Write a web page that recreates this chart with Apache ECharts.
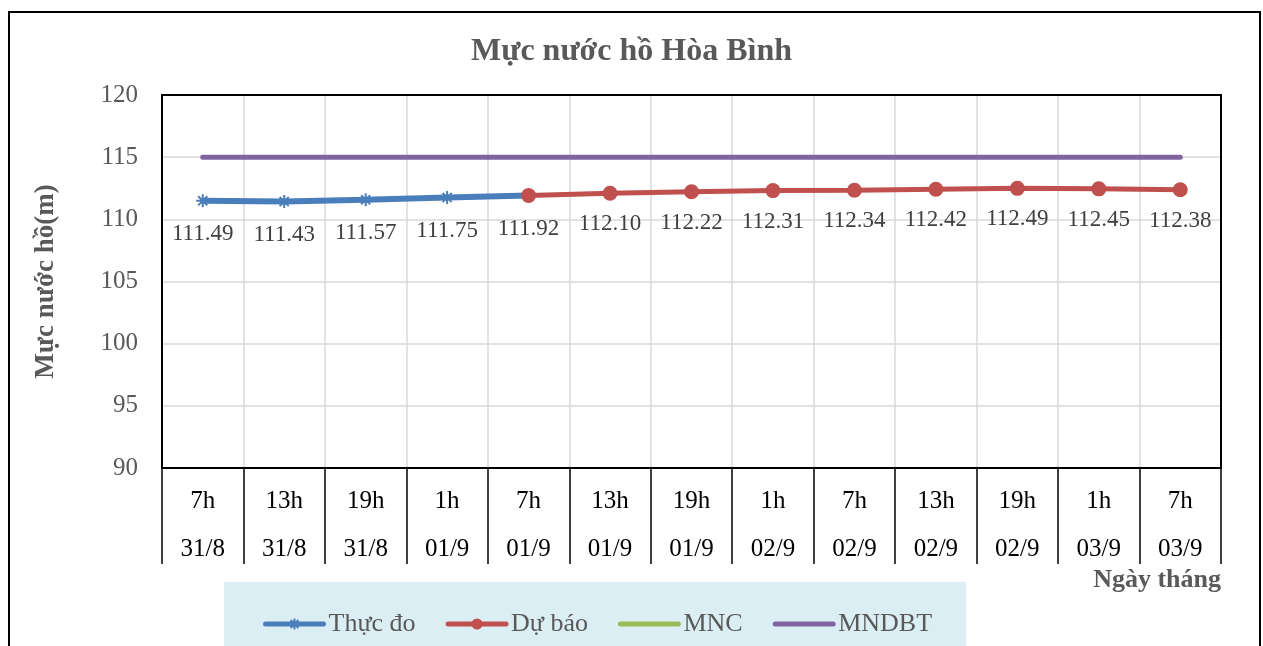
<!DOCTYPE html>
<html>
<head>
<meta charset="utf-8">
<script src="https://cdn.jsdelivr.net/npm/echarts@6/dist/echarts.min.js"></script>
<style>
html,body{margin:0;padding:0;background:#fff;}
#main{width:1263px;height:646px;}
</style>
</head>
<body>
<div id="main"></div>
<script>
var hours = ['7h','13h','19h','1h','7h','13h','19h','1h','7h','13h','19h','1h','7h'];
var days = ['31/8','31/8','31/8','01/9','01/9','01/9','01/9','02/9','02/9','02/9','02/9','03/9','03/9'];
var thucDo = [111.49,111.43,111.57,111.75,111.92];
var duBao = ['-','-','-','-',111.92,112.10,112.22,112.31,112.34,112.42,112.49,112.45,112.38];
var mnc = [80,80,80,80,80,80,80,80,80,80,80,80,80];     // nam duoi truc nen khong hien
var mndbt = [115,115,115,115,115,115,115,115,115,115,115,115,115];
var yTicks = {min:90, max:120, step:5};

var font = '"Liberation Serif","Times New Roman",serif';
var gray = '#595959';
var cats = [];
for (var i = 0; i < hours.length; i++) cats.push(hours[i] + '|' + days[i]);

var G = {left:162, top:95, right:42, bottom:178};

var myChart = echarts.init(document.getElementById('main'));
var asterisk = 'path://M0,5L10,5M5,0L5,10M1.5,1.5L8.5,8.5M1.5,8.5L8.5,1.5';

var option = {
    animation: false,
    title: {
        text: 'Mực nước hồ Hòa Bình',
        left: 'center', top: 31,
        textStyle: {fontFamily: font, fontSize: 32, fontWeight: 'bold', color: gray}
    },
    grid: {left: G.left, top: G.top, right: G.right, bottom: G.bottom},
    legend: {
        left: 258, top: 606,
        itemWidth: 58, itemHeight: 14, itemGap: 30,
        textStyle: {fontFamily: font, fontSize: 26, color: gray},
        lineStyle: {width: 5, cap: 'round'},
        data: [
            {name: 'Thực đo'},
            {name: 'Dự báo'},
            {name: 'MNC', itemStyle: {opacity: 0}},
            {name: 'MNDBT', itemStyle: {opacity: 0}}
        ]
    },
    xAxis: {
        type: 'category',
        data: cats,
        boundaryGap: true,
        axisLine: {show: true, lineStyle: {color: '#000', width: 2}},
        axisTick: {show: true, interval: 0, length: 96, lineStyle: {color: '#000', width: 1.5}},
        splitLine: {show: true, interval: 0, lineStyle: {color: '#d9d9d9', width: 1.5}},
        axisLabel: {
            interval: 0, margin: 9,
            formatter: function (v) {
                var p = v.split('|');
                return '{a|' + p[0] + '}\n{a|' + p[1] + '}';
            },
            rich: {a: {fontFamily: font, fontSize: 25, color: '#000', lineHeight: 48}}
        }
    },
    yAxis: {
        type: 'value',
        min: yTicks.min, max: yTicks.max, interval: yTicks.step,
        name: 'Mực nước hồ(m)',
        nameLocation: 'middle', nameGap: 102, nameRotate: 90,
        nameTextStyle: {fontFamily: font, fontSize: 27, fontWeight: 'bold', color: gray},
        axisLine: {show: true, lineStyle: {color: '#000', width: 2}},
        axisTick: {show: false},
        splitLine: {lineStyle: {color: '#d9d9d9', width: 1.5}},
        axisLabel: {margin: 24, fontFamily: font, fontSize: 25, color: gray}
    },
    graphic: [
        {type: 'rect', z: -10, shape: {x: 9, y: 12, width: 1251, height: 650},
         style: {fill: 'none', stroke: '#000', lineWidth: 2}},
        {type: 'rect', z: -5, shape: {x: 224, y: 582, width: 742, height: 70},
         style: {fill: '#dbeef4'}},
        {type: 'rect', z: 100, shape: {x: 162, y: 95, width: 1059, height: 373},
         style: {fill: 'none', stroke: '#000', lineWidth: 2}},
        {type: 'text', z: 100, x: 1221, y: 567,
         style: {text: 'Ngày tháng', textAlign: 'right', font: 'bold 26px ' + font, fill: gray}}
    ],
    series: [
        {
            name: 'MNC', type: 'line', data: mnc, symbol: 'none',
            lineStyle: {color: '#9bbb59', width: 5}, itemStyle: {color: '#9bbb59'}
        },
        {
            name: 'MNDBT', type: 'line', data: mndbt, symbol: 'none',
            lineStyle: {color: '#8064a2', width: 5, cap: 'round'}, itemStyle: {color: '#8064a2'}
        },
        {
            name: 'Thực đo', type: 'line', data: thucDo,
            symbol: asterisk, symbolSize: 13,
            lineStyle: {color: '#4a7ebb', width: 6},
            itemStyle: {color: '#4a7ebb', borderColor: '#4a7ebb', borderWidth: 2},
            label: {show: true, position: 'bottom', distance: 14,
                    fontFamily: font, fontSize: 23, color: '#404040',
                    formatter: function (p) { return p.value.toFixed(2); }}
        },
        {
            name: 'Dự báo', type: 'line', data: duBao,
            symbol: 'circle', symbolSize: 15,
            lineStyle: {color: '#c0504d', width: 5},
            itemStyle: {color: '#c0504d'},
            label: {show: true, position: 'bottom', distance: 12,
                    fontFamily: font, fontSize: 23, color: '#404040',
                    formatter: function (p) { return p.dataIndex == 4 ? '' : p.value.toFixed(2); }}
        }
    ]
};
myChart.setOption(option);
</script>
</body>
</html>
